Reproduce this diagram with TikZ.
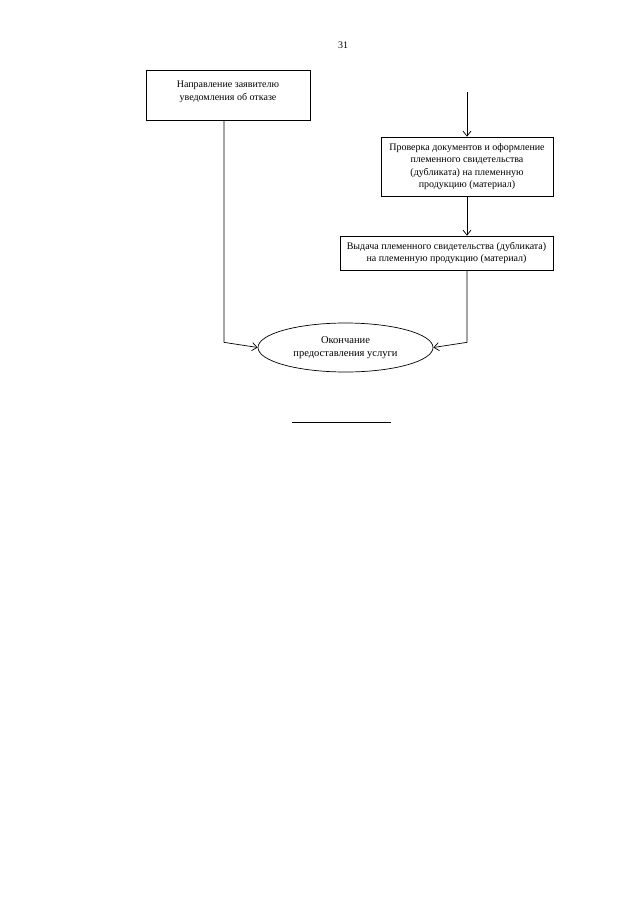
\documentclass[tikz,border=0pt]{standalone}
\usepackage{fontspec}
\setmainfont{Liberation Serif}
\usetikzlibrary{arrows.meta,shapes.geometric}
\tikzset{
  blk/.style={draw,line width=.7pt,align=center,inner sep=2pt,font=\fontsize{10}{12.5}\selectfont},
  arr/.style={-{Straight Barb[length=5pt,width=8pt]},line width=.7pt}
}
\begin{document}
\begin{tikzpicture}[x=1pt,y=-1pt]
\useasboundingbox(0,0)rectangle(640,905);
\node[font=\fontsize{10}{12}\selectfont](num)at(343,45){31};
\node[blk,minimum width=164pt,minimum height=50pt](refuse)at(228,95){Направление заявителю\\уведомления об отказе\\[-4pt]};
\node[blk,minimum width=172pt,minimum height=59pt](check)at(467,166.5){Проверка документов и оформление\\племенного свидетельства\\(дубликата) на племенную\\продукцию (материал)};
\node[blk,minimum width=213pt,minimum height=34pt](issue)at(446.5,253){Выдача племенного свидетельства (дубликата)\\на племенную продукцию (материал)};
\node[blk,ellipse,minimum width=175pt,minimum height=49pt,inner sep=0pt,font=\fontsize{10.5}{13}\selectfont](done)at(345.5,347.5){Окончание\\предоставления услуги};
\coordinate(in)at(467,92);
\draw[arr](in)--(check.north);
\draw[arr](check.south)--(check.south|-issue.north);
\draw[arr]([xshift=-4pt]refuse.south)--++(0,222)--(done.west);
\draw[arr]([xshift=20.5pt]issue.south)--++(0,72)--(done.east);
\draw[line width=.7pt](292,422)--(391,422);
\end{tikzpicture}
\end{document}
